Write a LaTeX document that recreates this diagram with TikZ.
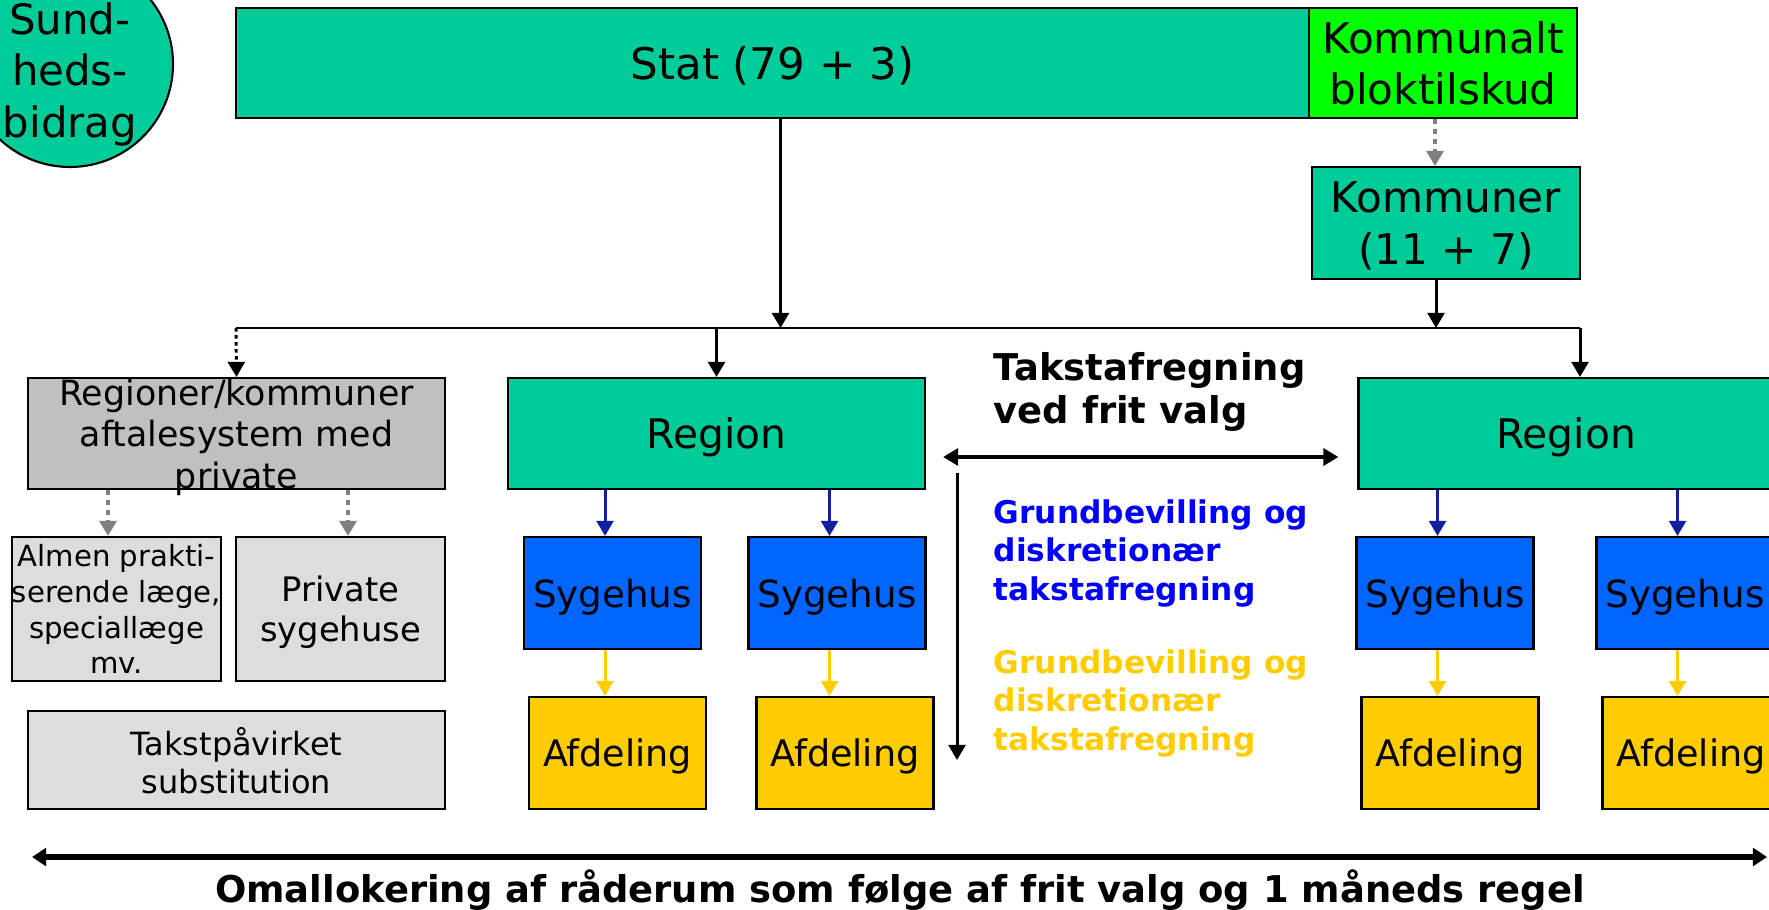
\documentclass[tikz,border=0pt]{standalone}
\usepackage{fontspec}
\setmainfont{DejaVu Sans}
\usepackage{xcolor}
\usepackage{tikz}
\usetikzlibrary{arrows.meta, positioning, calc}

\definecolor{teal1}{RGB}{0,204,153}
\definecolor{lime1}{RGB}{0,255,0}
\definecolor{syghus}{RGB}{0,102,255}
\definecolor{afdgul}{RGB}{255,204,0}
\definecolor{graa1}{RGB}{192,192,192}
\definecolor{graa2}{RGB}{221,221,221}
\definecolor{navy1}{RGB}{16,32,160}
\newcommand{\fsz}[2]{\fontsize{#1}{#2}\selectfont}

\begin{document}
\begin{tikzpicture}[x=0.1mm, y=-0.1mm,
      box/.style={draw, line width=0.6pt, inner sep=0pt, align=center, text depth=0pt},
      sygbox/.style={box, fill=syghus, minimum width=17.7mm, minimum height=11.2mm, font=\fsz{10.6}{12}},
      afdbox/.style={box, fill=afdgul, minimum width=17.7mm, minimum height=11.2mm, font=\fsz{10.4}{12}},
      pil/.style={-{Triangle[length=4.3pt,width=4.8pt]}, line width=0.85pt},
      graapil/.style={pil, line width=1.3pt, gray, dash pattern=on 1.4pt off 1.4pt},
      dobbelt/.style={{Triangle[length=4.3pt,width=4.8pt]}-{Triangle[length=4.3pt,width=4.8pt]}, line width=1.1pt},
      tekst/.style={anchor=north west, inner sep=0pt, align=left}
    ]
      \useasboundingbox (0,0) rectangle (1769,909);
      \clip (0,0) rectangle (1769,909);

      \node[box, circle, fill=teal1, minimum size=20.6mm, font=\fsz{11.9}{14.6}] (sund) at (70,64) {\rule{0pt}{12.5pt}Sund-\\heds-\\bidrag};
      \node[box, fill=teal1, minimum width=107.3mm, minimum height=11mm, font=\fsz{12.4}{15}] (stat) at (772.5,63) {Stat (79 + 3)};
      \node[box, fill=lime1, minimum width=26.8mm, minimum height=11mm, font=\fsz{12}{14.5}] (kblok) at (1443,63) {Kommunalt\\bloktilskud};
      \node[box, fill=teal1, minimum width=26.8mm, minimum height=11.2mm, font=\fsz{12}{15}] (kommuner) at (1446,223) {Kommuner\\(11 + 7)};

      \coordinate (busL) at (236,328);
      \coordinate (busR) at (1580,328);
      \draw[line width=0.85pt] (busL) -- (busR);
      \draw[pil] ([xshift=0.8mm]stat.south) -- ([xshift=0.8mm]stat.south |- busL);
      \draw[graapil] ([xshift=-0.8mm]kblok.south) -- ([xshift=-0.8mm]kblok.south |- kommuner.north);
      \draw[pil] ([xshift=-1mm]kommuner.south) -- ([xshift=-1mm]kommuner.south |- busL);

      \node[box, fill=graa1, minimum width=41.7mm, minimum height=11.1mm, font=\fsz{9.9}{11.8}] (regkom) at (236.5,433.5) {Regioner/kommuner\\aftalesystem med\\private};
      \node[box, fill=teal1, minimum width=41.7mm, minimum height=11.1mm, font=\fsz{11.6}{13}] (reg1) at (716.5,433.5) {Region};
      \node[box, fill=teal1, minimum width=44.3mm, minimum height=11.1mm, font=\fsz{11.6}{13}] (reg2) at (1580,433.5) {\hspace*{-2.8mm}Region};
      \draw[pil, dash pattern=on 1pt off 1pt] (busL) -- (regkom.north);
      \draw[pil] (reg1.north |- busL) -- (reg1.north);
      \draw[pil] (busR) -- (reg2.north);

      \node[box, fill=graa2, minimum width=20.9mm, minimum height=14.4mm, font=\fsz{8.3}{10.2}] (almen) at (116.5,609) {Almen prakti-\\serende læge,\\speciallæge\\mv.};
      \node[box, fill=graa2, minimum width=20.9mm, minimum height=14.4mm, font=\fsz{9.6}{11.4}] (privsyg) at (340.5,609) {Private\\sygehuse};
      \node[box, fill=graa2, minimum width=41.7mm, minimum height=9.8mm, font=\fsz{9.1}{10.8}] (takst) at (236.5,760) {Takstpåvirket\\substitution};
      \draw[graapil] ([xshift=-0.85mm]almen.north |- regkom.south) -- ([xshift=-0.85mm]almen.north);
      \draw[graapil] ([xshift=0.75mm]privsyg.north |- regkom.south) -- ([xshift=0.75mm]privsyg.north);

      \node[sygbox] (syg1) at (612.5,593) {Sygehus};
      \node[sygbox] (syg2) at (837,593) {Sygehus};
      \node[sygbox] (syg3) at (1445,593) {Sygehus};
      \node[sygbox] (syg4) at (1685,593) {Sygehus};
      \node[afdbox] (afd1) at (617.5,753) {Afdeling};
      \node[afdbox] (afd2) at (845,753) {Afdeling};
      \node[afdbox] (afd3) at (1450,753) {Afdeling};
      \node[afdbox] (afd4) at (1691,753) {Afdeling};

      \draw[pil, navy1] ([xshift=-0.75mm]syg1.north |- reg1.south) -- ([xshift=-0.75mm]syg1.north);
      \draw[pil, navy1] ([xshift=-0.75mm]syg2.north |- reg1.south) -- ([xshift=-0.75mm]syg2.north);
      \draw[pil, navy1] ([xshift=-0.75mm]syg3.north |- reg2.south) -- ([xshift=-0.75mm]syg3.north);
      \draw[pil, navy1] ([xshift=-0.75mm]syg4.north |- reg2.south) -- ([xshift=-0.75mm]syg4.north);
      \draw[pil, afdgul] ([xshift=-0.75mm]syg1.south) -- ([xshift=-0.75mm]syg1.south |- afd1.north);
      \draw[pil, afdgul] ([xshift=-0.75mm]syg2.south) -- ([xshift=-0.75mm]syg2.south |- afd2.north);
      \draw[pil, afdgul] ([xshift=-0.75mm]syg3.south) -- ([xshift=-0.75mm]syg3.south |- afd3.north);
      \draw[pil, afdgul] ([xshift=-0.75mm]syg4.south) -- ([xshift=-0.75mm]syg4.south |- afd4.north);

      \draw[dobbelt, shorten <=1.7mm, shorten >=1.9mm] ([yshift=-2.35mm]reg1.east) -- ([yshift=-2.35mm]reg2.west);
      \coordinate (vtop) at (957,473);
      \coordinate (vbot) at (957,760);
      \draw[pil] (vtop) -- (vbot);

      \node[tekst, font=\bfseries\fsz{10.5}{12.2}] (frivalg) at (993,352) {Takstafregning\\ved frit valg};
      \node[tekst, text=blue, font=\bfseries\fsz{8.9}{10.95}] (blaatekst) at (993,499) {Grundbevilling og\\diskretionær\\takstafregning};
      \node[tekst, text=afdgul, font=\bfseries\fsz{8.9}{10.95}] (gultekst) at (993,649) {Grundbevilling og\\diskretionær\\takstafregning};

      \coordinate (bundL) at (32,857);
      \coordinate (bundR) at (1767,857);
      \draw[{Triangle[length=4pt,width=5pt]}-{Triangle[length=4pt,width=5pt]}, line width=1.8pt] (bundL) -- (bundR);
      \node[anchor=base, inner sep=0pt, font=\bfseries\fsz{10.5}{12}] (omall) at (900,902) {Omallokering af råderum som følge af frit valg og 1 måneds regel};
    \end{tikzpicture}
\end{document}
